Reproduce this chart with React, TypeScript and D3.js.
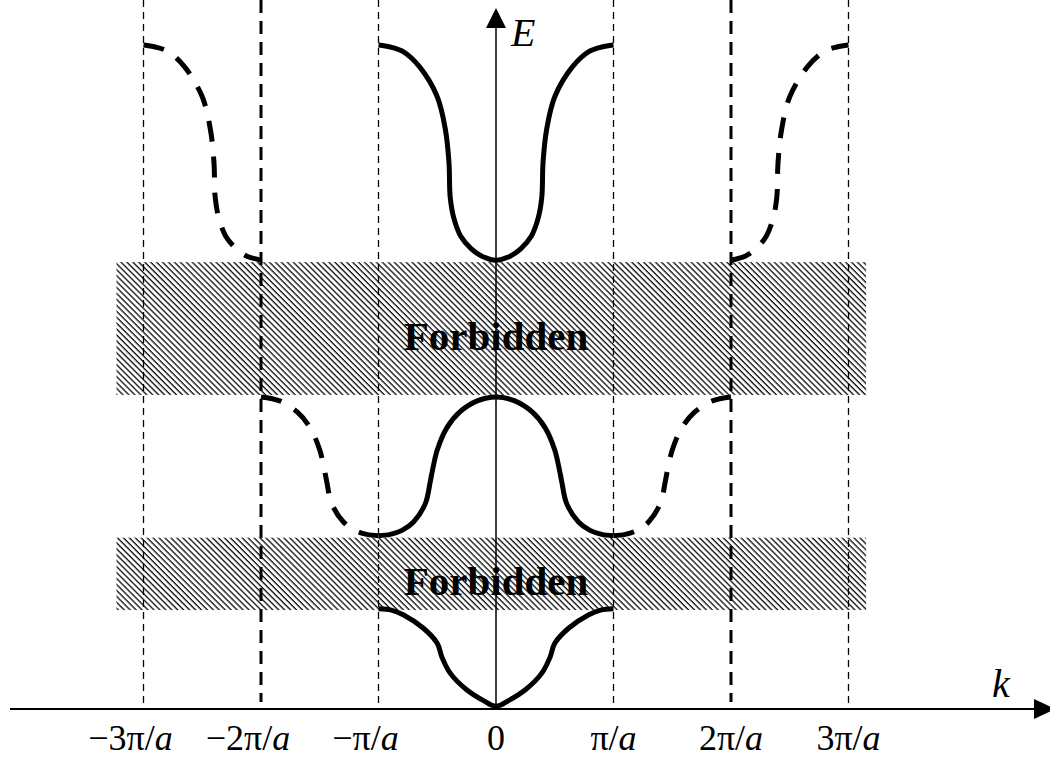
import React from 'react';
import * as d3 from 'd3';

const W = 1050;
const H = 758;

// k in units of π/a
const tickValues = [-3, -2, -1, 0, 1, 2, 3];
const tickLabels = ['−3π/', '−2π/', '−π/', '0', 'π/', '2π/', '3π/'];
const tickItalicA = [true, true, true, false, true, true, true];

// left-half profiles of the three allowed bands (k from -π/a to 0), E in arbitrary units
const upperBandK = [-1, -0.9, -0.79, -0.65, -0.5, -0.43, -0.4, -0.39, -0.36, -0.3, -0.21, -0.12, 0];
const upperBandE = [10.0, 9.97, 9.9, 9.67, 9.22, 8.72, 8.22, 7.71, 7.4, 7.12, 6.93, 6.82, 6.76];
const middleBandK = [-1, -0.9, -0.8, -0.7, -0.6, -0.56, -0.54, -0.5, -0.42, -0.31, -0.16, 0];
const middleBandE = [2.61, 2.63, 2.69, 2.82, 3.1, 3.42, 3.6, 3.9, 4.23, 4.47, 4.64, 4.7];
const lowerBandK = [-1, -0.89, -0.79, -0.62, -0.5, -0.46, -0.39, -0.25, -0.11, 0];
const lowerBandE = [1.51, 1.49, 1.42, 1.22, 0.99, 0.78, 0.54, 0.29, 0.13, 0.04];

// forbidden gaps [Ebottom, Etop]
const gapUpper = [4.73, 6.73];
const gapLower = [1.49, 2.58];
const gapK = [-3.23, 3.15];
const gapLabel = 'Forbidden';

type P = [number, number];

const zip = (ks: number[], es: number[]): P[] => ks.map((k, i) => [k, es[i]] as P);
const mirror = (pts: P[]): P[] => pts.slice().reverse().map(([k, e]) => [-k, e] as P);
const shift = (pts: P[], dk: number): P[] => pts.map(([k, e]) => [k + dk, e] as P);
const full = (left: P[]): P[] => left.concat(mirror(left).slice(1));

export default function App() {
  const x = d3.scaleLinear().domain([-3, 3]).range([143.5, 848.5]);
  const y = d3.scaleLinear().domain([0, 10]).range([709, 45]);

  const line = d3
    .line<P>()
    .x((d) => x(d[0]))
    .y((d) => y(d[1]))
    .curve(d3.curveCatmullRom.alpha(0.5));

  const upperL = zip(upperBandK, upperBandE);
  const middleL = zip(middleBandK, middleBandE);
  const lowerL = zip(lowerBandK, lowerBandE);

  const solid = [full(upperL), full(middleL), full(lowerL)];
  const dashed = [
    shift(upperL, -2),
    shift(mirror(upperL), 2),
    shift(mirror(middleL), -2),
    shift(middleL, 2),
  ];

  const serif = "'Liberation Serif', 'Times New Roman', serif";
  const x0 = x(0);
  const yAxis = y(0);

  return (
    <svg
      width={W}
      height={H}
      style={{ position: 'absolute', left: 0, top: 0, background: '#fff' }}
    >
      <defs>
        <pattern
          id="hatch"
          patternUnits="userSpaceOnUse"
          width={4.2}
          height={8}
          patternTransform="rotate(-45)"
        >
          <rect width={4.2} height={8} fill="#fff" />
          <line x1={1} y1={0} x2={1} y2={8} stroke="#000" strokeWidth={1.25} />
        </pattern>
      </defs>

      {/* forbidden gaps */}
      {[gapUpper, gapLower].map((g, i) => (
        <rect
          key={'g' + i}
          x={x(gapK[0])}
          y={y(g[1])}
          width={x(gapK[1]) - x(gapK[0])}
          height={y(g[0]) - y(g[1])}
          fill="url(#hatch)"
        />
      ))}

      {/* zone boundary lines */}
      {tickValues
        .filter((t) => t !== 0)
        .map((t) => {
          const thick = Math.abs(t) === 2;
          return (
            <line
              key={'v' + t}
              x1={x(t)}
              x2={x(t)}
              y1={0}
              y2={thick ? yAxis - 7 : yAxis}
              stroke="#000"
              strokeWidth={thick ? 3 : 1.3}
              strokeDasharray={thick ? '13,8' : '7,5'}
            />
          );
        })}

      {/* axes */}
      <line x1={x0} x2={x0} y1={yAxis} y2={26} stroke="#000" strokeWidth={1.5} />
      <polygon points={`${x0},8 ${x0 - 10},28 ${x0 + 10},28`} fill="#000" />
      <line x1={10} x2={1036} y1={yAxis} y2={yAxis} stroke="#000" strokeWidth={2} />
      <polygon
        points={`1055,${yAxis} 1034,${yAxis - 10} 1034,${yAxis + 10}`}
        fill="#000"
      />

      {/* band curves */}
      {solid.map((pts, i) => (
        <path
          key={'s' + i}
          d={line(pts) || ''}
          fill="none"
          stroke="#000"
          strokeWidth={5}
          strokeLinejoin="round"
        />
      ))}
      {dashed.map((pts, i) => (
        <path
          key={'d' + i}
          d={line(pts) || ''}
          fill="none"
          stroke="#000"
          strokeWidth={5}
          strokeDasharray="21,15"
        />
      ))}

      {/* gap labels */}
      {[gapUpper, gapLower].map((g, i) => (
        <text
          key={'t' + i}
          x={x0}
          y={(y(g[0]) + y(g[1])) / 2 + 21}
          textAnchor="middle"
          fontFamily={serif}
          fontWeight="bold"
          fontSize={41}
          fill="#000"
        >
          {gapLabel}
        </text>
      ))}

      {/* axis titles */}
      <text x={511} y={46} fontFamily={serif} fontStyle="italic" fontSize={40}>
        E
      </text>
      <text x={992} y={697} fontFamily={serif} fontStyle="italic" fontSize={40}>
        k
      </text>

      {/* tick labels */}
      {tickValues.map((t, i) => (
        <text
          key={'l' + i}
          x={x(t) + (t < 0 ? -13 : 0)}
          y={750}
          textAnchor="middle"
          fontFamily={serif}
          fontSize={36}
          fill="#000"
        >
          {tickLabels[i]}
          {tickItalicA[i] ? <tspan fontStyle="italic">a</tspan> : null}
        </text>
      ))}
    </svg>
  );
}
